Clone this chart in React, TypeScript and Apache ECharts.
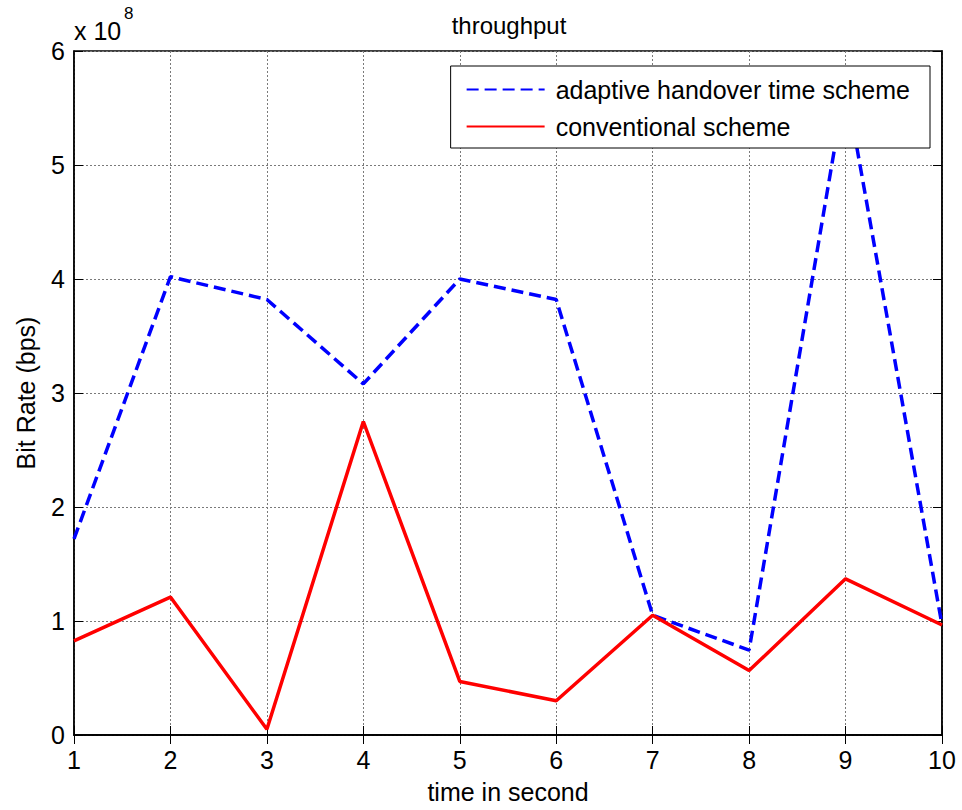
import React, { useEffect, useRef } from "react";
import * as echarts from "echarts";

const timeSeconds = [1, 2, 3, 4, 5, 6, 7, 8, 9, 10];
const adaptiveScheme = [1.72e8, 4.02e8, 3.82e8, 3.08e8, 4.0e8, 3.82e8, 1.05e8, 0.745e8, 5.71e8, 0.965e8];
const conventionalScheme = [0.825e8, 1.21e8, 0.05e8, 2.75e8, 0.47e8, 0.3e8, 1.05e8, 0.565e8, 1.37e8, 0.965e8];
const seriesNames = ["adaptive handover time scheme", "conventional scheme"];
const yScale = 1e8;

const FONT = "Liberation Sans, Arial, sans-serif";
const FS = 25;

export default function App() {
  const ref = useRef<HTMLDivElement>(null);
  useEffect(() => {
    if (!ref.current) return;
    const chart = echarts.init(ref.current, undefined, { renderer: "svg" });
    const gridLine = { show: true, lineStyle: { color: "#7a7a7a", width: 1, type: [2, 2] as any } };
    const option: any = {
      animation: false,
      backgroundColor: "#ffffff",
      textStyle: { fontFamily: FONT },
      title: {
        text: "throughput",
        left: 504,
        textAlign: "center",
        top: 8,
        textStyle: { fontFamily: FONT, fontSize: 24, fontWeight: "normal", color: "#000" },
      },
      grid: {
        left: 74,
        right: 20,
        top: 51,
        bottom: 75,
        show: true,
        borderColor: "#000",
        borderWidth: 1.5,
        backgroundColor: "#fff",
      },
      legend: {
        data: seriesNames,
        orient: "vertical",
        right: 32,
        top: 66,
        backgroundColor: "#fff",
        borderColor: "#000",
        borderWidth: 1,
        borderRadius: 0,
        padding: [11, 20, 9, 15],
        itemGap: 12,
        itemWidth: 78,
        itemHeight: 22,
        itemStyle: { opacity: 0 },
        textStyle: { fontFamily: FONT, fontSize: FS, color: "#000", padding: [0, 0, 0, 6] },
      },
      graphic: [
        {
          type: "text",
          left: 74,
          top: 18,
          style: { text: "x 10", fontFamily: FONT, fontSize: FS, fill: "#000" },
        },
        {
          type: "text",
          left: 124,
          top: 5,
          style: { text: "8", fontFamily: FONT, fontSize: 17, fill: "#000" },
        },
      ],
      xAxis: [
        {
          type: "value",
          min: 1,
          max: 10,
          interval: 1,
          name: "time in second",
          nameLocation: "middle",
          nameGap: 44,
          nameTextStyle: { fontFamily: FONT, fontSize: FS, color: "#000" },
          axisLine: { show: true, lineStyle: { color: "#000", width: 1.5 } },
          axisTick: { show: true, inside: true, length: 9, lineStyle: { color: "#000" } },
          axisLabel: { fontFamily: FONT, fontSize: FS, color: "#000", margin: 12 },
          splitLine: gridLine,
        },
        {
          type: "value",
          position: "top",
          min: 1,
          max: 10,
          interval: 1,
          axisLine: { show: true, lineStyle: { color: "#000", width: 1.5 } },
          axisTick: { show: true, inside: true, length: 9, lineStyle: { color: "#000" } },
          axisLabel: { show: false },
          splitLine: { show: false },
        },
      ],
      yAxis: [
        {
          type: "value",
          min: 0,
          max: 6 * yScale,
          interval: yScale,
          name: "Bit Rate (bps)",
          nameLocation: "middle",
          nameGap: 36,
          nameTextStyle: { fontFamily: FONT, fontSize: FS, color: "#000" },
          axisLine: { show: true, lineStyle: { color: "#000", width: 1.5 } },
          axisTick: { show: true, inside: true, length: 9, lineStyle: { color: "#000" } },
          axisLabel: {
            fontFamily: FONT,
            fontSize: FS,
            color: "#000",
            margin: 9,
            formatter: (v: number) => String(Math.round(v / yScale)),
          },
          splitLine: gridLine,
        },
        {
          type: "value",
          position: "right",
          min: 0,
          max: 6 * yScale,
          interval: yScale,
          axisLine: { show: true, lineStyle: { color: "#000", width: 1.5 } },
          axisTick: { show: true, inside: true, length: 9, lineStyle: { color: "#000" } },
          axisLabel: { show: false },
          splitLine: { show: false },
        },
      ],
      series: [
        {
          name: seriesNames[0],
          type: "line",
          data: timeSeconds.map((t, i) => [t, adaptiveScheme[i]]),
          symbol: "none",
          lineStyle: { color: "#0000ff", width: 3.5, type: [12, 6] },
          itemStyle: { color: "#0000ff" },
          z: 3,
        },
        {
          name: seriesNames[1],
          type: "line",
          data: timeSeconds.map((t, i) => [t, conventionalScheme[i]]),
          symbol: "none",
          lineStyle: { color: "#ff0000", width: 3.5, type: "solid" },
          itemStyle: { color: "#ff0000" },
          z: 4,
        },
      ],
    };
    chart.setOption(option);
    return () => chart.dispose();
  }, []);
  return (
    <div
      ref={ref}
      style={{ position: "fixed", left: 0, top: 0, width: 962, height: 810, background: "#fff" }}
    />
  );
}
